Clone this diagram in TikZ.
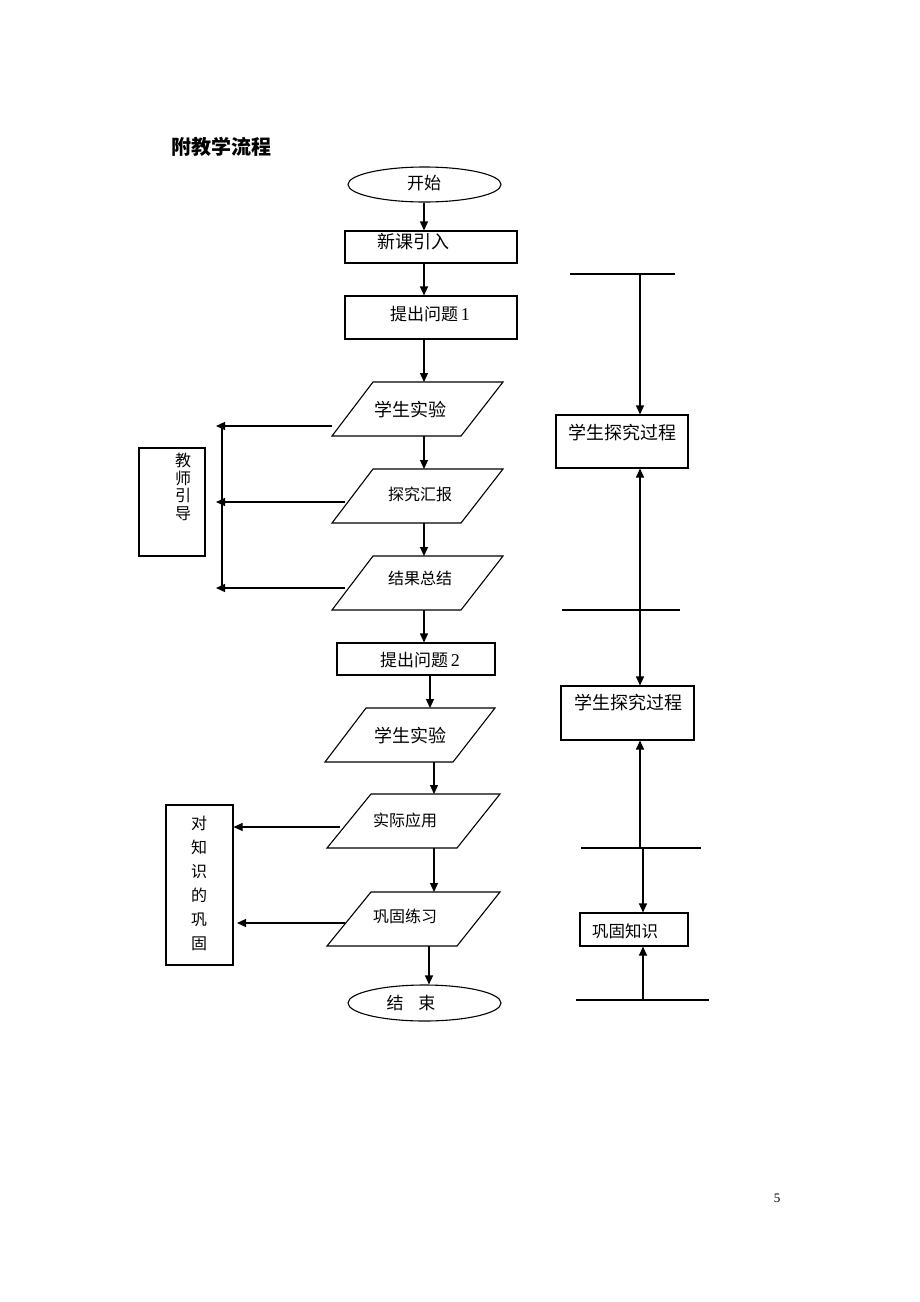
\documentclass[tikz,border=0pt]{standalone}
\usepackage{fontspec}
\setmainfont{Liberation Serif}
\newfontfamily\cjk{Noto Sans CJK SC}
\usetikzlibrary{arrows.meta,shapes.geometric}
\begin{document}
\begin{tikzpicture}[x=1pt,y=-1pt,line width=1.1pt,
  box/.style={draw,line width=1.1pt,inner sep=0pt},
  oval/.style={draw,ellipse,line width=1.1pt,inner sep=0pt},
  arr/.style={-{Triangle[length=9pt,width=8pt]}},
  tl/.style={font=\cjk\fontsize{18}{20}\selectfont,inner sep=0pt},
  tm/.style={font=\cjk\fontsize{17}{20}\selectfont,inner sep=0pt},
  ts/.style={font=\cjk\fontsize{16}{18}\selectfont,inner sep=0pt}]
\useasboundingbox[fill=white] (0,0) rectangle (920,1302);

% title
\node[font=\cjk\bfseries\fontsize{20}{22}\selectfont,inner sep=0pt] (title) at (221,147) {附教学流程};

% start / end
\node[oval,minimum width=153pt,minimum height=35pt] (start) at (424.5,184.5) {};
\node[tm] (startT) at (424,183) {开始};
\node[oval,minimum width=153pt,minimum height=36pt] (stop) at (424.5,1003) {};
\node[tm] (stopT) at (411,1003) {结\hspace{15pt}束};

% rectangles
\node[box,minimum width=172pt,minimum height=32pt] (intro) at (431,247) {};
\node[tl] (introT) at (413,242) {新课引入};
\node[box,minimum width=172pt,minimum height=43pt] (q1) at (431,317.5) {};
\node[tm] (q1T) at (430,314) {提出问题\,{\rmfamily\fontsize{18}{20}\selectfont 1}};
\node[box,minimum width=158pt,minimum height=32pt] (q2) at (416,659) {};
\node[tm] (q2T) at (420,660) {提出问题\,{\rmfamily\fontsize{18}{20}\selectfont 2}};

% parallelograms
\draw (373,382) coordinate (p1tl) -- (503,382) -- (461,436) -- (332,436) -- cycle;
\coordinate (p1n) at (424,382); \coordinate (p1s) at (424,436);
\node[tl] (p1T) at (410,410) {学生实验};
\draw (373,469) -- (503,469) -- (461,523) -- (332,523) -- cycle;
\coordinate (p2n) at (424,469); \coordinate (p2s) at (424,523);
\node[ts] (p2T) at (420,494) {探究汇报};
\draw (373,556) -- (503,556) -- (461,610) -- (332,610) -- cycle;
\coordinate (p3n) at (424,556); \coordinate (p3s) at (424,610);
\node[ts] (p3T) at (420,578) {结果总结};
\draw (366,708) -- (495,708) -- (453,762) -- (325,762) -- cycle;
\coordinate (p4n) at (430,708); \coordinate (p4s) at (434,762);
\node[tl] (p4T) at (410,736) {学生实验};
\draw (371,794) -- (500,794) -- (457,848) -- (327,848) -- cycle;
\coordinate (p5n) at (434,794); \coordinate (p5s) at (434,848);
\node[ts] (p5T) at (405,820) {实际应用};
\draw (371,892) -- (500,892) -- (457,946) -- (327,946) -- cycle;
\coordinate (p6n) at (434,892); \coordinate (p6s) at (429,946);
\node[ts] (p6T) at (405,916) {巩固练习};

% main flow arrows
\draw[arr] (start.south -| 424,0) -- (intro.north -| 424,0);
\draw[arr] (intro.south -| 424,0) -- (q1.north -| 424,0);
\draw[arr] (q1.south -| 424,0) -- (p1n);
\draw[arr] (p1s) -- (p2n);
\draw[arr] (p2s) -- (p3n);
\draw[arr] (p3s) -- (q2.north -| 424,0);
\draw[arr] (q2.south -| 430,0) -- (p4n);
\draw[arr] (p4s) -- (p5n);
\draw[arr] (p5s) -- (p6n);
\draw[arr] (p6s) -- (stop.north -| 429,0);

% left: teacher guidance
\node[box,minimum width=66pt,minimum height=108pt] (teach) at (172,502) {};
\node[font=\cjk\fontsize{16}{17.5}\selectfont,inner sep=0pt,align=center] (teachT) at (183,487) {教\\师\\引\\导};
\coordinate (l1a) at (332,426); \coordinate (l1b) at (216,426);
\coordinate (l2a) at (345,502); \coordinate (l2b) at (216,502);
\coordinate (l3a) at (345,588); \coordinate (l3b) at (216,588);
\draw[arr] (l1a) -- (l1b);
\draw[arr] (l2a) -- (l2b);
\draw[arr] (l3a) -- (l3b);
\draw (222,426) -- (222,588);

% left: consolidation
\node[box,minimum width=67pt,minimum height=160pt] (cons) at (199.5,885) {};
\node[font=\cjk\fontsize{16}{24}\selectfont,inner sep=0pt,align=center] (consT) at (199,883) {对\\知\\识\\的\\巩\\固};
\coordinate (c1a) at (340,827); \coordinate (c2a) at (345,923);
\draw[arr] (c1a) -- (cons.east |- c1a);
\draw[arr] (c2a) -- (237,923);

% right column
\node[box,minimum width=132pt,minimum height=53pt] (r1) at (622,441.5) {};
\node[tl] (r1T) at (622,433) {学生探究过程};
\node[box,minimum width=133pt,minimum height=54pt] (r2) at (627.5,713) {};
\node[tl] (r2T) at (628,703) {学生探究过程};
\node[box,minimum width=108pt,minimum height=33pt] (r3) at (634,929.5) {};
\node[font=\cjk\fontsize{16.5}{18}\selectfont,inner sep=0pt] (r3T) at (625,931) {巩固知识};

\coordinate (h1) at (640,274); \draw (570,274) -- (675,274);
\coordinate (h2) at (640,610); \draw (562,610) -- (680,610);
\coordinate (h3) at (640,848); \draw (581,848) -- (701,848);
\coordinate (h3b) at (643,848);
\coordinate (h4) at (643,1000); \draw (576,1000) -- (709,1000);

\draw[arr] (h1) -- (h1 |- r1.north);
\draw[arr] (h2) -- (h2 |- r1.south);
\draw[arr] (h2) -- (h2 |- r2.north);
\draw[arr] (h3) -- (h3 |- r2.south);
\draw[arr] (h3b) -- (h3b |- r3.north);
\draw[arr] (h4) -- (h4 |- r3.south);

% page number
\node[font=\fontsize{13}{15}\selectfont,inner sep=0pt] (pg) at (777,1198) {5};
\end{tikzpicture}
\end{document}
